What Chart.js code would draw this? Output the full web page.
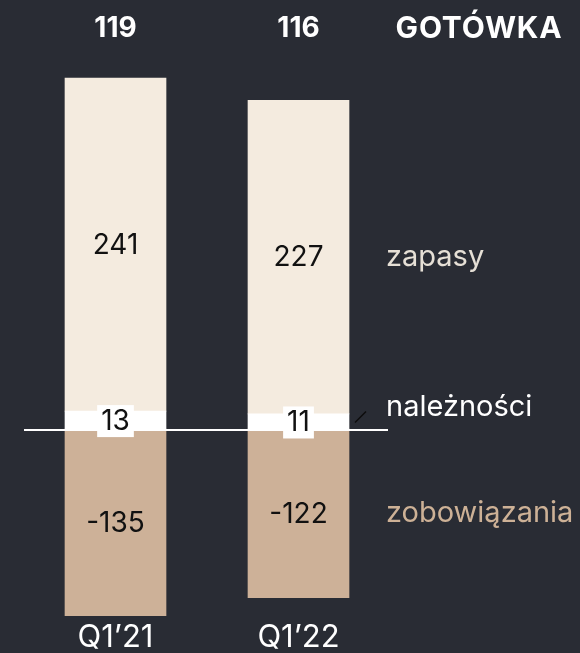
<!doctype html>
<html>
<head>
    <meta charset="utf-8">
    <title>Kapitał obrotowy</title>
    <script src="https://cdn.jsdelivr.net/npm/chart.js"></script>
    <style>
        html, body { margin: 0; padding: 0; background: #292c34; }
        #wrap { width: 580px; height: 653px; position: relative; }
    </style>
</head>
<body>
<div id="wrap"><canvas id="wykres"></canvas></div>
<script>
const kategorie = ['Q1\u201921', 'Q1\u201922'];
const naleznosci = [13, 11];
const zapasy = [241, 227];
const zobowiazania = [-135, -122];
const gotowka = [119, 116];
const opisy = ['należności', 'zapasy', 'zobowiązania'];

const FONT = 'Inter, "Noto Sans", sans-serif';

// etykiety wartości, linia zero, opisy z prawej
const napisy = {
    id: 'napisy',
    afterDatasetsDraw(chart) {
        const ctx = chart.ctx;
        const x = chart.scales.x;
        const y = chart.scales.y;
        const area = chart.chartArea;
        const y0 = y.getPixelForValue(0);

        ctx.save();
        // linia zero
        ctx.strokeStyle = '#ffffff';
        ctx.lineWidth = 2;
        ctx.beginPath();
        ctx.moveTo(area.left, y0 + 1);
        ctx.lineTo(area.right - 2, y0 + 1);
        ctx.stroke();

        ctx.textAlign = 'center';
        ctx.textBaseline = 'middle';
        ctx.font = '28px ' + FONT;
        chart.data.datasets.forEach((ds, i) => {
            chart.getDatasetMeta(i).data.forEach((bar, j) => {
                const p = bar.getCenterPoint();
                const txt = String(ds.data[j]);
                if (i === 0) {
                    const w = ctx.measureText(txt).width + 8;
                    ctx.fillStyle = '#ffffff';
                    ctx.fillRect(p.x - w / 2, p.y - 15, w, 32);
                }
                ctx.fillStyle = '#111111';
                ctx.fillText(txt, p.x, p.y + 1);
            });
        });

        // gotówka nad słupkami
        ctx.fillStyle = '#ffffff';
        ctx.font = 'bold 28px ' + FONT;
        gotowka.forEach((v, j) => {
            ctx.fillText(String(v), x.getPixelForValue(j), 29);
        });
        ctx.font = 'bold 30px ' + FONT;
        ctx.letterSpacing = '0.8px';
        ctx.fillText('GOTÓWKA', 479, 29);
        ctx.letterSpacing = '0px';

        // opisy z prawej strony
        ctx.textAlign = 'left';
        ctx.font = '29px ' + FONT;
        const lx = area.right - 4;
        const ostatni = chart.data.labels.length - 1;
        const pN = chart.getDatasetMeta(0).data[ostatni].getCenterPoint();
        const pZ = chart.getDatasetMeta(1).data[ostatni].getCenterPoint();
        const pO = chart.getDatasetMeta(2).data[ostatni].getCenterPoint();
        ctx.fillStyle = '#ffffff';
        ctx.fillText(opisy[0], lx, pN.y - 14);
        ctx.fillStyle = '#e6e0d6';
        ctx.fillText(opisy[1], lx, pZ.y);
        ctx.fillStyle = '#cdb196';
        ctx.fillText(opisy[2], lx, pO.y);

        // mała kreska przy należnościach
        ctx.strokeStyle = '#0c0c0c';
        ctx.lineWidth = 1.5;
        ctx.beginPath();
        ctx.moveTo(area.right - 35, pN.y + 1);
        ctx.lineTo(area.right - 24, pN.y - 10);
        ctx.stroke();
        ctx.restore();
    }
};

new Chart(document.getElementById('wykres').getContext('2d'), {
    type: 'bar',
    data: {
        labels: kategorie,
        datasets: [
            { label: 'należności', data: naleznosci, backgroundColor: '#ffffff' },
            { label: 'zapasy', data: zapasy, backgroundColor: '#f4ebdf' },
            { label: 'zobowiązania', data: zobowiazania, backgroundColor: '#cdb198' }
        ]
    },
    options: {
        responsive: true,
        maintainAspectRatio: false,
        animation: false,
        layout: { padding: { top: 56, right: 190, left: 24, bottom: -5 } },
        datasets: { bar: { barThickness: 101, borderWidth: 0 } },
        plugins: { legend: { display: false }, tooltip: { enabled: false } },
        scales: {
            x: {
                stacked: true,
                grid: { display: false, drawTicks: false },
                border: { display: false },
                ticks: { color: '#ffffff', font: { family: FONT, size: 31, lineHeight: 1 }, padding: 5 }
            },
            y: {
                stacked: true,
                display: false,
                min: -136,
                max: 270
            }
        }
    },
    plugins: [napisy]
});
</script>
</body>
</html>
